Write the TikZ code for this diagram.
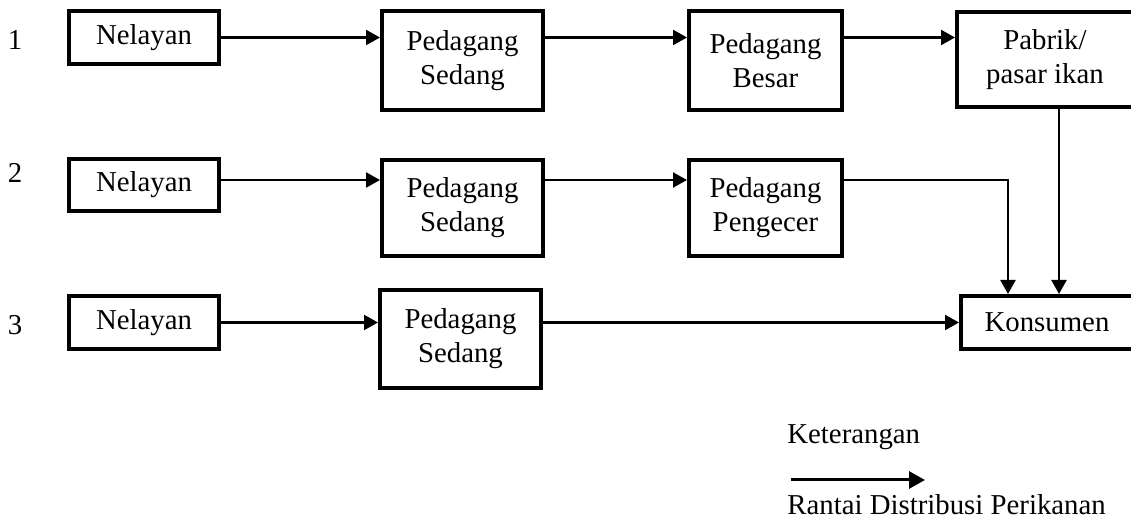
\documentclass[tikz,border=0pt]{standalone}
\usepackage{fontspec}
\setmainfont{Liberation Serif}
\usetikzlibrary{arrows.meta}
\begin{document}
\begin{tikzpicture}[x=0.5pt,y=-0.5pt,
  box/.style={draw, line width=1.9pt, align=center, inner sep=0pt,
              font=\fontsize{14.4}{17}\selectfont},
  label/.style={inner sep=0pt, font=\fontsize{14.4}{17}\selectfont},
  flow/.style={line width=1.1pt, -{Triangle[length=7pt,width=7.5pt]}},
  legendflow/.style={line width=1.5pt, -{Triangle[length=8pt,width=8.5pt]}}]
\useasboundingbox (0,0) rectangle (1131,522);
\clip (0,0) rectangle (1131,522);

% row numbers
\node[label] (r1) at (15,40) {1};
\node[label] (r2) at (15,173) {2};
\node[label] (r3) at (15,325) {3};

% chain 1
\node[box, minimum width=75.1pt, minimum height=26.6pt] (n1) at (144,37.5) {Nelayan};
\node[box, minimum width=80.6pt, minimum height=49.6pt] (ps1) at (462.5,60.5) {Pedagang\\Sedang};
\node[box, minimum width=76.6pt, minimum height=49.6pt] (pb1) at (765.5,60.5) {Pedagang\\Besar};
\node[box, minimum width=88.1pt, minimum height=47.6pt] (pf1) at (1045,59.5) {Pabrik/\\pasar ikan};

% chain 2
\node[box, minimum width=75.1pt, minimum height=26.1pt] (n2) at (144,185) {Nelayan};
\node[box, minimum width=80.6pt, minimum height=48.1pt] (ps2) at (462.5,208) {Pedagang\\Sedang};
\node[box, minimum width=76.6pt, minimum height=48.1pt] (pp2) at (765.5,208) {Pedagang\\Pengecer};

% chain 3
\node[box, minimum width=75.1pt, minimum height=26.6pt] (n3) at (144,322.5) {Nelayan};
\node[box, minimum width=80.6pt, minimum height=49.1pt] (ps3) at (460.5,339) {Pedagang\\Sedang};
\node[box, minimum width=86.1pt, minimum height=26.6pt] (k) at (1047,322.5) {Konsumen};

% connectors, chain 1
\draw[flow] (n1.east) -- (n1.east -| ps1.west);
\draw[flow] (ps1.east |- n1.east) -- (pb1.west |- n1.east);
\draw[flow] (pb1.east |- n1.east) -- (pf1.west |- n1.east);
\draw[flow] ([xshift=7pt]pf1.south) -- ([xshift=7pt]pf1.south |- k.north);

% connectors, chain 2
\draw[flow] ([yshift=2.5pt]n2.east) -- ([yshift=2.5pt]n2.east -| ps2.west);
\draw[flow] ([yshift=2.5pt]ps2.east |- n2.east) -- ([yshift=2.5pt]pp2.west |- n2.east);
\draw[flow] ([yshift=2.5pt]pp2.east |- n2.east) -| ([xshift=-19.5pt]k.north);

% connectors, chain 3
\draw[flow] (n3.east) -- (n3.east -| ps3.west);
\draw[flow] (ps3.east |- k.west) -- (k.west);

% legend
\node[label, anchor=west] (ket) at (787,437) {Keterangan};
\coordinate (la) at (791,480);
\coordinate (lb) at (925,480);
\draw[legendflow] (la) -- (lb);
\node[label, anchor=west] (rdp) at (787,505) {Rantai Distribusi Perikanan};
\end{tikzpicture}
\end{document}
